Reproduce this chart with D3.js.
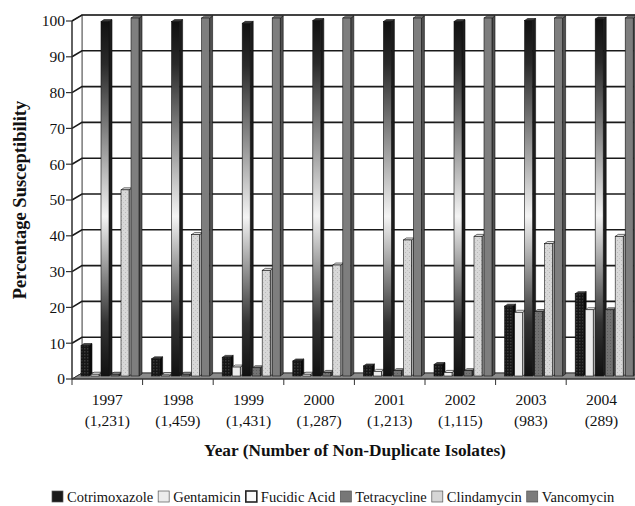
<!DOCTYPE html>
<html>
<head>
<meta charset="utf-8">
<script src="https://cdn.jsdelivr.net/npm/d3@7"></script>
<style>
  body { margin: 0; background: #fff; }
  svg text { font-family: "Liberation Serif", "Times New Roman", "DejaVu Serif", serif; fill: #111; }
</style>
</head>
<body>
<svg id="chart" width="635" height="506" font-family="Liberation Serif, serif"></svg>
<script>
var years = ['1997', '1998', '1999', '2000', '2001', '2002', '2003', '2004'];
var isolates = ['(1,231)', '(1,459)', '(1,431)', '(1,287)', '(1,213)', '(1,115)', '(983)', '(289)'];
var drugs = ['Cotrimoxazole', 'Gentamicin', 'Fucidic Acid', 'Tetracycline', 'Clindamycin', 'Vancomycin'];

var cotrimoxazole = [8.5, 4.8, 5.2, 4.2, 2.8, 3.2, 19.5, 23];
var gentamicin    = [0.5, 0.3, 2.5, 0.5, 1.3, 1, 17.8, 18.5];
var fucidicAcid   = [99, 99, 98.5, 99.3, 99, 99, 99.3, 99.7];
var tetracycline  = [0.5, 0.5, 2.3, 1, 1.5, 1.5, 18, 18.5];
var clindamycin   = [52, 39.5, 29.5, 31, 38, 39, 37, 39];
var vancomycin    = [100, 100, 100, 100, 100, 100, 100, 100];
var yTicks = [0, 10, 20, 30, 40, 50, 60, 70, 80, 90, 100];

var series = [cotrimoxazole, gentamicin, fucidicAcid, tetracycline, clindamycin, vancomycin];

var svg = d3.select('#chart');
var defs = svg.append('defs');

// fills for each drug
var cp = defs.append('pattern').attr('id', 'pCot').attr('width', 3).attr('height', 3).attr('patternUnits', 'userSpaceOnUse');
cp.append('rect').attr('width', 3).attr('height', 3).attr('fill', '#161616');
cp.append('rect').attr('width', 1.5).attr('height', 1.5).attr('fill', '#3a3a3a');

var tp = defs.append('pattern').attr('id', 'pTet').attr('width', 3).attr('height', 3).attr('patternUnits', 'userSpaceOnUse');
tp.append('rect').attr('width', 3).attr('height', 3).attr('fill', '#727272');
tp.append('rect').attr('x', 1).attr('y', 1).attr('width', 1).attr('height', 1).attr('fill', '#5c5c5c');

var clp = defs.append('pattern').attr('id', 'pCli').attr('width', 4).attr('height', 4).attr('patternUnits', 'userSpaceOnUse');
clp.append('rect').attr('width', 4).attr('height', 4).attr('fill', '#d8d8d8');
clp.append('rect').attr('x', 1).attr('y', 0).attr('width', 1).attr('height', 1).attr('fill', '#b8b8b8');
clp.append('rect').attr('x', 3).attr('y', 2).attr('width', 1).attr('height', 1).attr('fill', '#c4c4c4');

var fg = defs.append('linearGradient').attr('id', 'gFuc').attr('x1', 0).attr('y1', 0).attr('x2', 0).attr('y2', 1);
fg.append('stop').attr('offset', '0').attr('stop-color', '#111');
fg.append('stop').attr('offset', '0.12').attr('stop-color', '#2a2a2a');
fg.append('stop').attr('offset', '0.55').attr('stop-color', '#f4f4f4');
fg.append('stop').attr('offset', '0.85').attr('stop-color', '#333');
fg.append('stop').attr('offset', '1').attr('stop-color', '#111');

var fills = ['url(#pCot)', '#ededed', 'url(#gFuc)', 'url(#pTet)', 'url(#pCli)', '#7e7e7e'];
var sideFills = ['#0a0a0a', '#bdbdbd', '#1c1c1c', '#474747', '#a8a8a8', '#505050'];
var topFills = ['#444', '#f8f8f8', '#3a3a3a', '#9a9a9a', '#e8e8e8', '#9a9a9a'];
var legendFills = ['#1a1a1a', '#ececec', '#fafafa', '#777', '#d6d6d6', '#7c7c7c'];

// geometry
var x0 = 72, catW = 70.6;
var depthX = 10, depthY = -6;
var x = d3.scaleBand().domain(years).range([x0, x0 + catW * years.length]).padding(0);
var xs = d3.scaleBand().domain(drugs).range([9, 69]).padding(0);
var y = d3.scaleLinear().domain([0, 100]).range([379, 21]);
var right = x0 + catW * years.length;

// back wall
svg.append('rect').attr('x', x0 + depthX).attr('y', y(100) + depthY)
  .attr('width', right - x0).attr('height', y(0) - y(100)).attr('fill', '#fff')
  .attr('stroke', '#888').attr('stroke-width', 1);

// left wall
svg.append('path')
  .attr('d', 'M' + x0 + ',' + y(0) + 'L' + x0 + ',' + y(100) + 'L' + (x0 + depthX) + ',' + (y(100) + depthY) +
    'L' + (x0 + depthX) + ',' + (y(0) + depthY) + 'Z')
  .attr('fill', '#fff').attr('stroke', '#555').attr('stroke-width', 1);

// gridlines
var grid = svg.append('g');
yTicks.filter(function (d) { return d > 0; }).forEach(function (t) {
  grid.append('path')
    .attr('d', 'M' + x0 + ',' + y(t) + 'L' + (x0 + depthX) + ',' + (y(t) + depthY) + 'L' + (right + depthX) + ',' + (y(t) + depthY))
    .attr('fill', 'none').attr('stroke', '#1a1a1a').attr('stroke-width', 1.6);
});

// floor
svg.append('path')
  .attr('d', 'M' + x0 + ',' + y(0) + 'L' + (x0 + depthX) + ',' + (y(0) + depthY) + 'L' + (right + depthX) + ',' + (y(0) + depthY) +
    'L' + right + ',' + y(0) + 'Z')
  .attr('fill', '#8a8a8a').attr('stroke', '#333').attr('stroke-width', 1);

// bars
var bdx = 3, bdy = -2, shiftY = -3;
var bars = svg.append('g');
years.forEach(function (yr, i) {
  drugs.forEach(function (dr, j) {
    var v = series[j][i];
    var bx = x(yr) + xs(dr);
    var bw = xs.bandwidth() - 2;
    var top = y(v) + shiftY, base = y(0) + shiftY;
    var g = bars.append('g');
    g.append('path')
      .attr('d', 'M' + (bx + bw) + ',' + base + 'L' + (bx + bw + bdx) + ',' + (base + bdy) + 'L' + (bx + bw + bdx) + ',' + (top + bdy) +
        'L' + (bx + bw) + ',' + top + 'Z')
      .attr('fill', sideFills[j]).attr('stroke', '#111').attr('stroke-width', 0.6);
    g.append('path')
      .attr('d', 'M' + bx + ',' + top + 'L' + (bx + bdx) + ',' + (top + bdy) + 'L' + (bx + bw + bdx) + ',' + (top + bdy) +
        'L' + (bx + bw) + ',' + top + 'Z')
      .attr('fill', topFills[j]).attr('stroke', '#111').attr('stroke-width', 0.6);
    g.append('rect').attr('x', bx).attr('y', top).attr('width', bw).attr('height', Math.max(base - top, 0.5))
      .attr('fill', fills[j]).attr('stroke', '#111').attr('stroke-width', 0.6);
  });
});

// y axis
var yAxis = svg.append('g');
yAxis.append('line').attr('x1', x0).attr('x2', x0).attr('y1', y(0)).attr('y2', y(100)).attr('stroke', '#333').attr('stroke-width', 1.2);
yTicks.forEach(function (t) {
  yAxis.append('line').attr('x1', x0 - 6).attr('x2', x0).attr('y1', y(t)).attr('y2', y(t)).attr('stroke', '#333').attr('stroke-width', 1.2);
  yAxis.append('text').attr('x', x0 - 7).attr('y', y(t)).attr('dy', '0.35em')
    .attr('text-anchor', 'end').style('font-size', '15.5px').text(t);
});

// x axis
var xAxis = svg.append('g');
xAxis.append('line').attr('x1', x0).attr('x2', right).attr('y1', y(0)).attr('y2', y(0)).attr('stroke', '#333').attr('stroke-width', 1.2);
years.concat(['end']).forEach(function (d, i) {
  var tx = x0 + catW * i;
  xAxis.append('line').attr('x1', tx).attr('x2', tx).attr('y1', y(0)).attr('y2', y(0) + 6).attr('stroke', '#333').attr('stroke-width', 1);
});
years.forEach(function (yr, i) {
  var cx = x(yr) + x.bandwidth() / 2;
  xAxis.append('text').attr('x', cx).attr('y', 405).attr('text-anchor', 'middle').style('font-size', '15.5px').text(yr);
  xAxis.append('text').attr('x', cx).attr('y', 426).attr('text-anchor', 'middle').style('font-size', '15.5px').text(isolates[i]);
});

// titles
svg.append('text').attr('transform', 'translate(26,200) rotate(-90)').attr('text-anchor', 'middle')
  .style('font-size', '18.5px').style('font-weight', 'bold').text('Percentage Susceptibility');
svg.append('text').attr('x', 355).attr('y', 456).attr('text-anchor', 'middle')
  .style('font-size', '17.3px').style('font-weight', 'bold').text('Year (Number of Non-Duplicate Isolates)');

// legend
var legend = svg.append('g');
var lx = 52;
drugs.forEach(function (dr, j) {
  legend.append('rect').attr('x', lx).attr('y', 491).attr('width', 11).attr('height', 11)
    .attr('fill', legendFills[j]).attr('stroke', j === 2 ? '#222' : '#555').attr('stroke-width', j === 2 ? 1.6 : 0.7);
  var t = legend.append('text').attr('x', lx + 15).attr('y', 502).style('font-size', '14.5px').text(dr);
  lx += 15 + t.node().getComputedTextLength() + 5;
});
</script>
</body>
</html>
